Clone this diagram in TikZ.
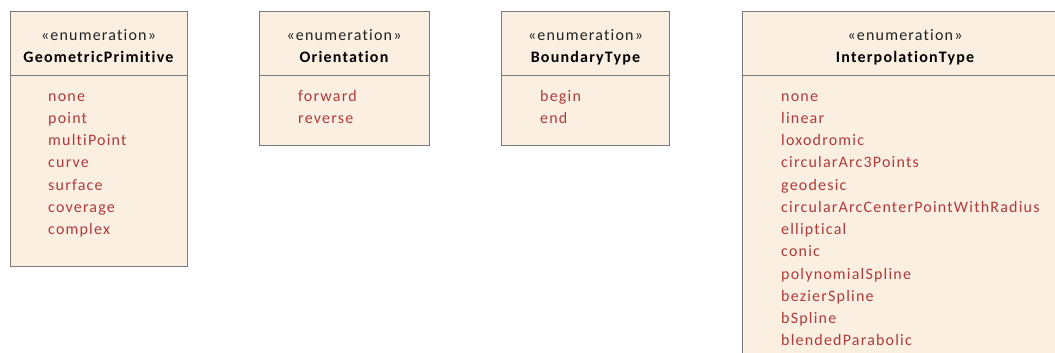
\documentclass[tikz,border=0pt]{standalone}
\usepackage{fontspec}
\setmainfont[LetterSpace=7.5,Ligatures=NoCommon]{Carlito}
\definecolor{boxfill}{HTML}{FBEFE2}
\definecolor{boxline}{HTML}{7A7A7A}
\definecolor{lit}{HTML}{B03A3A}
\definecolor{stereo}{HTML}{222222}
\begin{document}
\begin{tikzpicture}[x=1pt,y=-1pt,
  enumbox/.style={draw=boxline, fill=boxfill, line width=1pt, anchor=north west, inner sep=0pt, outer sep=0pt},
  divider/.style={draw=boxline, line width=1pt},
  stereotxt/.style={font=\fontsize{16}{19}\selectfont, text=stereo, anchor=base, inner sep=0pt},
  enamet/.style={font=\fontsize{16}{19}\selectfont\bfseries, text=black, anchor=base, inner sep=0pt},
  item/.style={font=\fontsize{16}{19}\selectfont, text=lit, anchor=base west, inner sep=0pt}]
\useasboundingbox (0,0) rectangle (1055,353);
\clip (0,0) rectangle (1055,353);
\fill[white] (0,0) rectangle (1055,353);

% Box 1
\node[enumbox, minimum width=177pt, minimum height=254pt] (b1) at (10,12) {};
\draw[divider] ([yshift=-64pt]b1.north west) -- ([yshift=-64pt]b1.north east);
\node[stereotxt] (s1) at ([yshift=-28.7pt]b1.north) {«enumeration»};
\node[enamet] (n1) at ([yshift=-50.7pt]b1.north) {GeometricPrimitive};
\foreach \t [count=\i from 0] in {none,point,multiPoint,curve,surface,coverage,complex}
  \node[item] (b1i\i) at ([xshift=38pt,yshift={-89pt-22.27pt*\i}]b1.north west) {\t};

% Box 2
\node[enumbox, minimum width=170pt, minimum height=133pt] (b2) at (259,12) {};
\draw[divider] ([yshift=-64pt]b2.north west) -- ([yshift=-64pt]b2.north east);
\node[stereotxt] (s2) at ([yshift=-28.7pt]b2.north) {«enumeration»};
\node[enamet] (n2) at ([yshift=-50.7pt]b2.north) {Orientation};
\foreach \t [count=\i from 0] in {forward,reverse}
  \node[item] (b2i\i) at ([xshift=39pt,yshift={-89pt-22.27pt*\i}]b2.north west) {\t};

% Box 3
\node[enumbox, minimum width=168pt, minimum height=133pt] (b3) at (501.5,12) {};
\draw[divider] ([yshift=-64pt]b3.north west) -- ([yshift=-64pt]b3.north east);
\node[stereotxt] (s3) at ([yshift=-28.7pt]b3.north) {«enumeration»};
\node[enamet] (n3) at ([yshift=-50.7pt]b3.north) {BoundaryType};
\foreach \t [count=\i from 0] in {begin,end}
  \node[item] (b3i\i) at ([xshift=38.5pt,yshift={-89pt-22.27pt*\i}]b3.north west) {\t};

% Box 4 (cut off by the picture edge)
\node[enumbox, minimum width=326pt, minimum height=360pt] (b4) at (742,12) {};
\draw[divider] ([yshift=-64pt]b4.north west) -- ([yshift=-64pt]b4.north east);
\node[stereotxt] (s4) at ([yshift=-28.7pt]b4.north) {«enumeration»};
\node[enamet] (n4) at ([yshift=-50.7pt]b4.north) {InterpolationType};
\foreach \t [count=\i from 0] in {none,linear,loxodromic,circularArc3Points,geodesic,circularArcCenterPointWithRadius,elliptical,conic,polynomialSpline,bezierSpline,bSpline,blendedParabolic}
  \node[item] (b4i\i) at ([xshift=39pt,yshift={-89pt-22.27pt*\i}]b4.north west) {\t};
\end{tikzpicture}
\end{document}
